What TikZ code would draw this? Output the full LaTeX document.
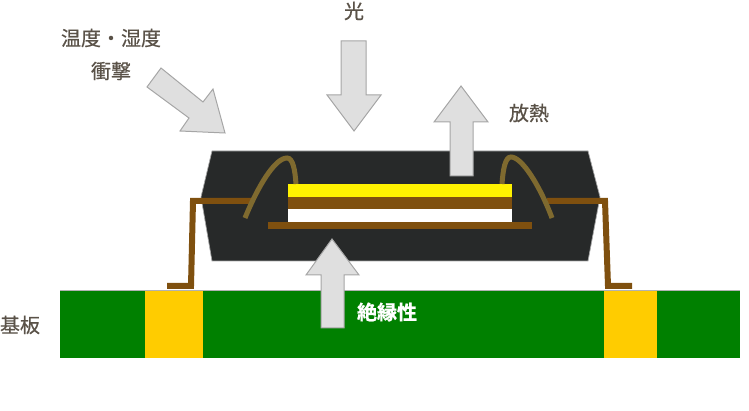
\documentclass[tikz,border=0pt]{standalone}
\usepackage{fontspec}
\newfontfamily\cjk[FakeBold=0.6]{Noto Sans CJK JP}
\newfontfamily\cjkbold[FakeBold=0.8]{Noto Sans CJK JP Bold}
\definecolor{leadbrown}{HTML}{7F500F}
\definecolor{wireolive}{HTML}{7F6A2F}
\definecolor{moldblack}{HTML}{272929}
\definecolor{boardgreen}{HTML}{008000}
\definecolor{padyellow}{HTML}{FFCC00}
\definecolor{labelgray}{HTML}{5A5248}
\tikzset{
  label/.style={font=\cjk\fontsize{20}{22}\selectfont, text=labelgray, inner sep=0pt},
  hintarrow/.style={fill=gray!25!white, draw=gray!70!white, line width=1pt},
  lead/.style={draw=leadbrown, line width=6pt, miter limit=10},
  wire/.style={draw=wireolive, line width=5pt}
}
\begin{document}
\begin{tikzpicture}[x=1pt,y=-1pt]
\useasboundingbox (0,0) rectangle (749,411);
% board
\fill[boardgreen] (60,290) rectangle (740,358);
\fill[padyellow] (145,290) rectangle (203,358);
\fill[padyellow] (604,290) rectangle (657,358);
\draw[gray!60, line width=0.7pt] (60,290) -- (740,290);
% package
\fill[moldblack] (212,151) -- (588,151) -- (600,197) -- (588,261) -- (212,261) -- (201,197) -- cycle;
\draw[gray!70, line width=0.7pt] (212,151) -- (588,151) -- (600,197) -- (588,261) -- (212,261) -- (201,197) -- cycle;
% chip
\fill[white] (288,209) rectangle (512,222);
\fill[leadbrown] (288,197) rectangle (512,209);
\fill[yellow] (288,184) rectangle (512,197);
\fill[leadbrown] (268,222) rectangle (532,229);
% leads
\draw[lead] (252,201) -- (193,201) -- (191,286) -- (167,286);
\draw[lead] (547,201) -- (605,201) -- (608,286) -- (632,286);
% wires
\draw[wire] (245,218) .. controls (258,186) and (275,158) .. (287,158) .. controls (293,158) and (295,170) .. (296,184);
\draw[wire] (552,218) .. controls (540,186) and (522,157) .. (511,157) .. controls (505,157) and (503,170) .. (502,184);
% arrows
\draw[hintarrow] (341,41) -- (366,41) -- (366,95) -- (381,95) -- (354,131) -- (327,95) -- (341,95) -- cycle;
\draw[hintarrow] (450,176) -- (473,176) -- (473,122) -- (488,122) -- (461,86) -- (434,122) -- (450,122) -- cycle;
\draw[hintarrow] (321,328) -- (344,328) -- (344,275) -- (359,275) -- (332,239) -- (306,275) -- (321,275) -- cycle;
\draw[hintarrow] (161,68) -- (203,102) -- (213,89) -- (225,133) -- (180,131) -- (189,118) -- (147,87) -- cycle;
% labels
\node[label] (light) at (354,11) {光};
\node[label] (humidity) at (111,38) {温度・湿度};
\node[label] (shock) at (111,71) {衝撃};
\node[label] (heat) at (529,113) {放熱};
\node[label, text=white, font=\cjkbold\fontsize{20}{22}\selectfont] (insulation) at (387,312) {絶縁性};
\node[label] (substrate) at (20,325) {基板};
\end{tikzpicture}
\end{document}
